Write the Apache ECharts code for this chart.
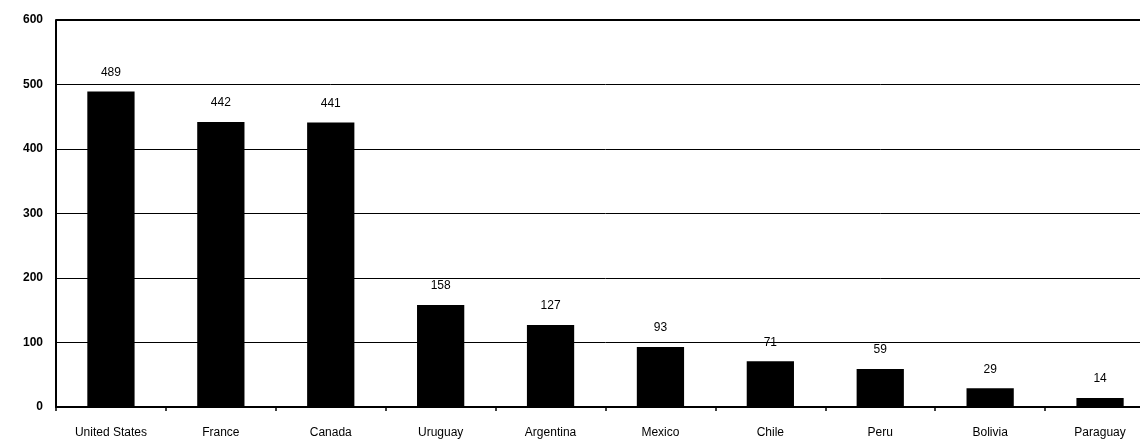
<!DOCTYPE html>
<html>
<head>
<meta charset="utf-8">
<script src="https://cdn.jsdelivr.net/npm/echarts@6/dist/echarts.min.js"></script>
<style>
  html, body { margin: 0; padding: 0; background: #fff; overflow: hidden; }
  #chart { width: 1155px; height: 441px; }
</style>
</head>
<body>
<div id="chart"></div>
<script>
// Countries and their values
const countries = ['United States', 'France', 'Canada', 'Uruguay', 'Argentina', 'Mexico', 'Chile', 'Peru', 'Bolivia', 'Paraguay'];
const values = [489, 442, 441, 158, 127, 93, 71, 59, 29, 14];
const yTicks = [0, 100, 200, 300, 400, 500, 600];

const chart = echarts.init(document.getElementById('chart'));
const font = 'Liberation Sans, Arial, sans-serif';

chart.setOption({
  animation: false,
  backgroundColor: '#fff',
  grid: { left: 56, right: 0, top: 20, bottom: 34, containLabel: false },
  xAxis: {
    type: 'category',
    data: countries,
    axisLine: { show: true, lineStyle: { color: '#000', width: 2 } },
    axisTick: { show: true, alignWithLabel: false, length: 4, lineStyle: { color: '#000', width: 1.5 } },
    axisLabel: { color: '#000', fontFamily: font, fontSize: 12, margin: 20, interval: 0 }
  },
  yAxis: {
    type: 'value',
    min: yTicks[0],
    max: yTicks[yTicks.length - 1],
    interval: 100,
    axisLine: { show: true, lineStyle: { color: '#000', width: 2 } },
    axisTick: { show: false },
    axisLabel: { color: '#000', fontFamily: font, fontSize: 12, fontWeight: 'bold', margin: 13 },
    splitLine: { show: true, lineStyle: { color: '#000', width: 1 } }
  },
  series: [{
    type: 'bar',
    data: values,
    barWidth: '43%',
    itemStyle: { color: '#000' },
    label: {
      show: true,
      position: 'top',
      distance: 13,
      color: '#000',
      fontFamily: font,
      fontSize: 12
    }
  }],
  graphic: [{
    type: 'line',
    shape: { x1: 56, y1: 20, x2: 1155, y2: 20 },
    style: { stroke: '#000', lineWidth: 2 }
  }]
});
</script>
</body>
</html>
